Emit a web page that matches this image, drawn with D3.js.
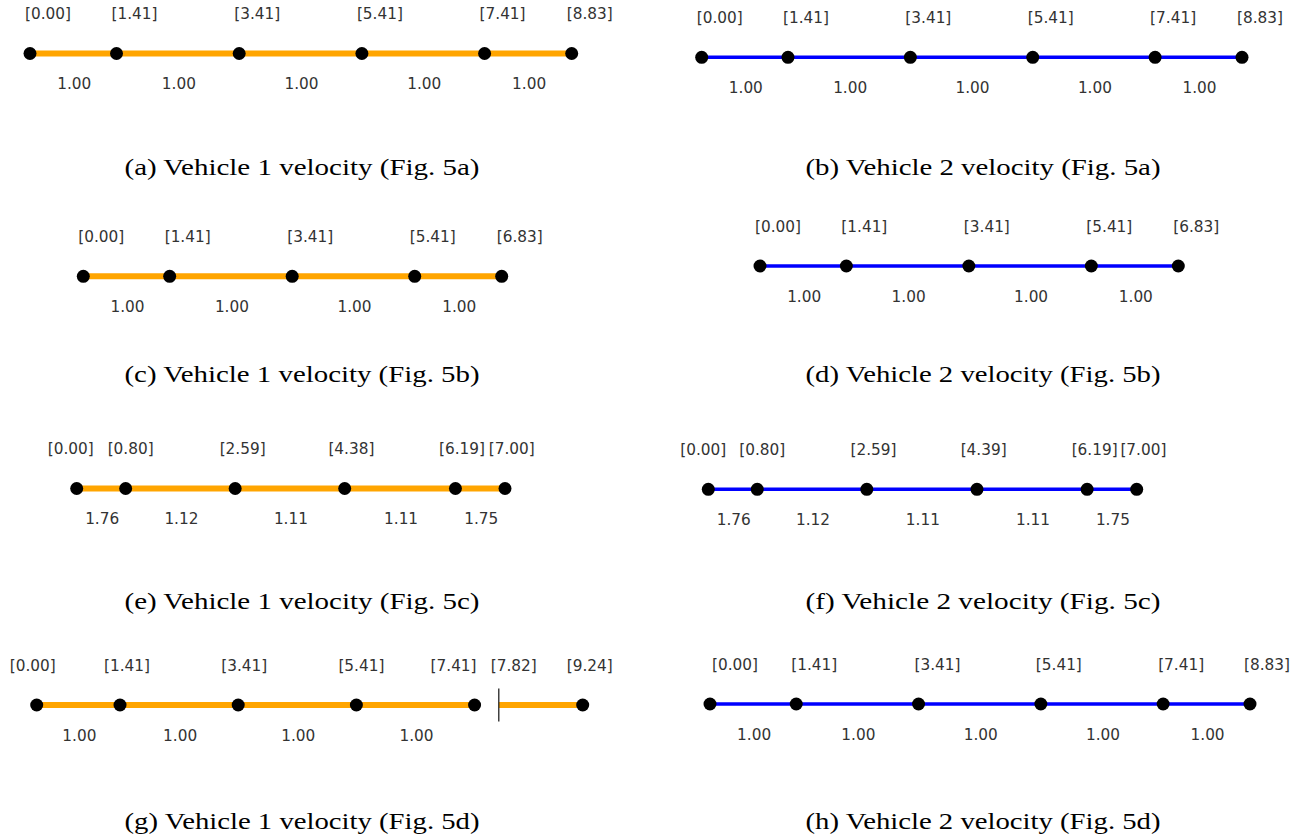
<!DOCTYPE html>
<html>
<head>
<meta charset="utf-8">
<script src="https://cdn.jsdelivr.net/npm/d3@7"></script>
<style>
  html, body { margin: 0; padding: 0; background: #fff; }
  svg { display: block; }
</style>
</head>
<body>
<svg id="chart" width="1307" height="840"></svg>
<script>
// ---------- DATA ----------
// Fig. 5a
const v1_5a_pos   = [0.00, 1.41, 3.41, 5.41, 7.41, 8.83];
const v1_5a_speed = [1.00, 1.00, 1.00, 1.00, 1.00];
const v2_5a_pos   = [0.00, 1.41, 3.41, 5.41, 7.41, 8.83];
const v2_5a_speed = [1.00, 1.00, 1.00, 1.00, 1.00];
// Fig. 5b
const v1_5b_pos   = [0.00, 1.41, 3.41, 5.41, 6.83];
const v1_5b_speed = [1.00, 1.00, 1.00, 1.00];
const v2_5b_pos   = [0.00, 1.41, 3.41, 5.41, 6.83];
const v2_5b_speed = [1.00, 1.00, 1.00, 1.00];
// Fig. 5c
const v1_5c_pos   = [0.00, 0.80, 2.59, 4.38, 6.19, 7.00];
const v1_5c_speed = [1.76, 1.12, 1.11, 1.11, 1.75];
const v2_5c_pos   = [0.00, 0.80, 2.59, 4.39, 6.19, 7.00];
const v2_5c_speed = [1.76, 1.12, 1.11, 1.11, 1.75];
// Fig. 5d (vehicle 1 waits between 7.41 and 7.82)
const v1_5d_pos   = [0.00, 1.41, 3.41, 5.41, 7.41, 7.82, 9.24];
const v1_5d_speed = [1.00, 1.00, 1.00, 1.00, null, null];
const v1_5d_moving = [true, true, true, true, false, true];
const v1_5d_marker = ["dot", "dot", "dot", "dot", "dot", "tick", "dot"];
const v2_5d_pos   = [0.00, 1.41, 3.41, 5.41, 7.41, 8.83];
const v2_5d_speed = [1.00, 1.00, 1.00, 1.00, 1.00];

const captions = [
  "(a) Vehicle 1 velocity (Fig. 5a)", "(b) Vehicle 2 velocity (Fig. 5a)",
  "(c) Vehicle 1 velocity (Fig. 5b)", "(d) Vehicle 2 velocity (Fig. 5b)",
  "(e) Vehicle 1 velocity (Fig. 5c)", "(f) Vehicle 2 velocity (Fig. 5c)",
  "(g) Vehicle 1 velocity (Fig. 5d)", "(h) Vehicle 2 velocity (Fig. 5d)"
];

// ---------- LAYOUT / STYLE ----------
const ORANGE = "#ffa500", BLUE = "#0000ff";
const panels = [
  { pos: v1_5a_pos, speed: v1_5a_speed, color: ORANGE, lw: 6,   x0: 30,    x1: 571.7,  y: 53.5,  capX: 302, capY: 175, labDx: null },
  { pos: v2_5a_pos, speed: v2_5a_speed, color: BLUE,   lw: 3.5, x0: 701.7, x1: 1242,   y: 57.3,  capX: 983, capY: 175, labDx: null },
  { pos: v1_5b_pos, speed: v1_5b_speed, color: ORANGE, lw: 6,   x0: 83.3,  x1: 501.7,  y: 276.3, capX: 302, capY: 382, labDx: null },
  { pos: v2_5b_pos, speed: v2_5b_speed, color: BLUE,   lw: 3.5, x0: 760,   x1: 1178.3, y: 266,   capX: 983, capY: 382, labDx: null },
  { pos: v1_5c_pos, speed: v1_5c_speed, color: ORANGE, lw: 6,   x0: 76.7,  x1: 505,    y: 488.5, capX: 302, capY: 609, labDx: [-6, 5, 7.5, 6.7, 6.5, 6.7] },
  { pos: v2_5c_pos, speed: v2_5c_speed, color: BLUE,   lw: 3.5, x0: 708.3, x1: 1136.7, y: 489.3, capX: 983, capY: 609, labDx: [-5, 5, 6.7, 6.7, 7.5, 6.7] },
  { pos: v1_5d_pos, speed: v1_5d_speed, moving: v1_5d_moving, marker: v1_5d_marker,
    color: ORANGE, lw: 6, x0: 36.7, x1: 582.7, y: 705, capX: 302, capY: 829, labDx: [-4, 7, 6, 5, -21, 15, 7] },
  { pos: v2_5d_pos, speed: v2_5d_speed, color: BLUE,   lw: 3.5, x0: 710,   x1: 1250,   y: 704,   capX: 983, capY: 829, labDx: [25, 18, 19, 18, 18, 17] }
];
const DEFAULT_LAB_DX = 18;
const LABEL_UP = 39.5, SPEED_DOWN = 30.5, DOT_R = 6.5;
const TEXT_COLOR = "#333";

const svg = d3.select("#chart");
const fmt = d3.format(".2f");

panels.forEach((p, pi) => {
  const n = p.pos.length;
  const x = d3.scaleLinear().domain([p.pos[0], p.pos[n - 1]]).range([p.x0, p.x1]);
  const g = svg.append("g");

  const segs = d3.range(n - 1).map(i => ({
    a: p.pos[i], b: p.pos[i + 1], v: p.speed[i],
    moving: p.moving ? p.moving[i] : true
  }));

  // segments
  g.selectAll("line.seg").data(segs.filter(s => s.moving)).join("line")
    .attr("class", "seg")
    .attr("x1", d => x(d.a)).attr("x2", d => x(d.b))
    .attr("y1", p.y).attr("y2", p.y)
    .attr("stroke", p.color).attr("stroke-width", p.lw);

  // speed labels
  g.selectAll("text.spd").data(segs.filter(s => s.v != null)).join("text")
    .attr("class", "spd")
    .attr("x", d => (x(d.a) + x(d.b)) / 2 + 1)
    .attr("y", p.y + SPEED_DOWN)
    .attr("text-anchor", "middle").attr("dominant-baseline", "central")
    .attr("font-family", "DejaVu Sans").attr("font-size", 15.3)
    .attr("fill", TEXT_COLOR)
    .text(d => fmt(d.v));

  const pts = p.pos.map((v, i) => ({ v, i, m: p.marker ? p.marker[i] : "dot" }));

  // markers
  g.selectAll("circle.pt").data(pts.filter(d => d.m === "dot")).join("circle")
    .attr("class", "pt")
    .attr("cx", d => x(d.v)).attr("cy", p.y).attr("r", DOT_R)
    .attr("fill", "#000");
  g.selectAll("line.tick").data(pts.filter(d => d.m === "tick")).join("line")
    .attr("class", "tick")
    .attr("x1", d => x(d.v)).attr("x2", d => x(d.v))
    .attr("y1", p.y - 16.5).attr("y2", p.y + 16.5)
    .attr("stroke", "#222").attr("stroke-width", 1.3);

  // position labels
  g.selectAll("text.pos").data(pts).join("text")
    .attr("class", "pos")
    .attr("x", d => x(d.v) + (p.labDx ? p.labDx[d.i] : DEFAULT_LAB_DX))
    .attr("y", p.y - LABEL_UP)
    .attr("text-anchor", "middle").attr("dominant-baseline", "central")
    .attr("font-family", "DejaVu Sans").attr("font-size", 15.3)
    .attr("fill", TEXT_COLOR)
    .text(d => "[" + fmt(d.v) + "]");

  // caption
  svg.append("text")
    .attr("x", p.capX).attr("y", p.capY)
    .attr("text-anchor", "middle")
    .attr("font-family", "Liberation Serif").attr("font-size", 24)
    .attr("textLength", 355).attr("lengthAdjust", "spacingAndGlyphs")
    .attr("fill", "#000")
    .text(captions[pi]);
});
</script>
</body>
</html>
